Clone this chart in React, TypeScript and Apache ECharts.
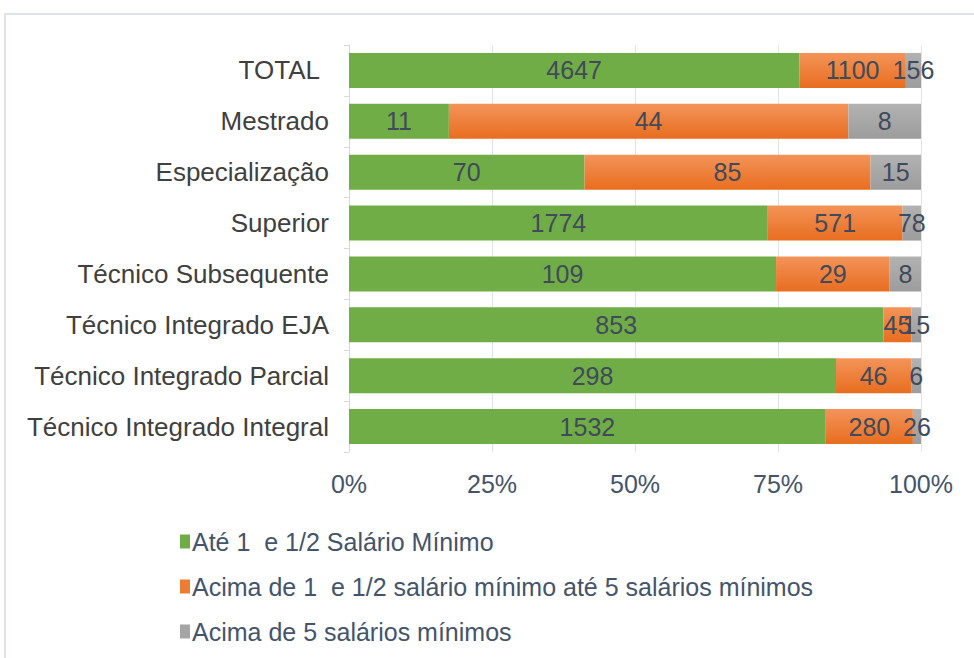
import React, { useEffect, useRef } from "react";
import * as echarts from "echarts";

const categories = [
  "Técnico Integrado Integral",
  "Técnico Integrado Parcial",
  "Técnico Integrado EJA",
  "Técnico Subsequente",
  "Superior",
  "Especialização",
  "Mestrado",
  "TOTAL",
];
const ate15 = [1532, 298, 853, 109, 1774, 70, 11, 4647];
const de15a5 = [280, 46, 45, 29, 571, 85, 44, 1100];
const acima5 = [26, 6, 15, 8, 78, 15, 8, 156];
const seriesNames = [
  "Até 1  e 1/2 Salário Mínimo",
  "Acima de 1  e 1/2 salário mínimo até 5 salários mínimos",
  "Acima de 5 salários mínimos",
];
const xTicks = [0, 25, 50, 75, 100];

export default function App() {
  const ref = useRef<HTMLDivElement>(null);
  useEffect(() => {
    document.body.style.margin = "0";
    const chart = echarts.init(ref.current!, null, { renderer: "svg" });
    const totals = categories.map((_, i) => ate15[i] + de15a5[i] + acima5[i]);
    const raw = [ate15, de15a5, acima5];
    const colors: any[] = [
      "#70ad47",
      new echarts.graphic.LinearGradient(0, 0, 0, 1, [
        { offset: 0, color: "#f39459" },
        { offset: 1, color: "#e86d1f" },
      ]),
      new echarts.graphic.LinearGradient(0, 0, 0, 1, [
        { offset: 0, color: "#b2b2b2" },
        { offset: 1, color: "#9c9c9c" },
      ]),
    ];
    const legendColors = ["#70ad47", "#ed7d31", "#a5a5a5"];
    const font = "Liberation Sans, Arial, sans-serif";
    chart.setOption({
      animation: false,
      graphic: [
        {
          type: "rect",
          shape: { x: 5, y: 14, width: 1000, height: 700 },
          style: { fill: "none", stroke: "#dde3eb", lineWidth: 2 },
          silent: true,
        },
      ],
      grid: { left: 349, right: 53, top: 45, bottom: 206 },
      legend: {
        orient: "vertical",
        left: 175,
        top: 524,
        itemWidth: 10,
        itemHeight: 14,
        itemGap: 20,
        icon: "rect",
        data: seriesNames.map((n, i) => ({ name: n, itemStyle: { color: legendColors[i] } })),
        textStyle: { fontSize: 25, color: "#44546a", fontFamily: font, lineHeight: 25, padding: [0, 0, 0, -3] },
      },
      xAxis: {
        type: "value",
        min: 0,
        max: 100,
        interval: 25,
        axisLine: { show: false },
        axisTick: { show: false },
        splitLine: { show: true, lineStyle: { color: "#dfe4ec", width: 1 } },
        axisLabel: {
          formatter: (v: number) => (xTicks.includes(v) ? v + "%" : ""),
          fontSize: 25,
          color: "#44546a",
          fontFamily: font,
          margin: 19,
        },
      },
      yAxis: {
        type: "category",
        data: categories.map((c) =>
          c === "TOTAL" ? { value: c, textStyle: { padding: [0, 9, 0, 0] } } : c
        ),
        axisLine: { show: true, lineStyle: { color: "#d9d9d9" } },
        axisTick: { show: true, length: 5, lineStyle: { color: "#d9d9d9" } },
        axisLabel: { fontSize: 26, color: "#404040", fontFamily: font, margin: 20 },
      },
      series: raw.map((arr, si) => ({
        name: seriesNames[si],
        type: "bar",
        stack: "total",
        barWidth: 35,
        itemStyle: { color: colors[si] },
        label: {
          show: true,
          position: "inside",
          fontSize: 25,
          color: "#404a5a",
          fontFamily: font,
          formatter: (p: any) => String(arr[p.dataIndex]),
        },
        data: arr.map((v, i) => (v / totals[i]) * 100),
      })),
    });
    return () => chart.dispose();
  }, []);
  return <div ref={ref} style={{ width: 974, height: 658 }} />;
}
